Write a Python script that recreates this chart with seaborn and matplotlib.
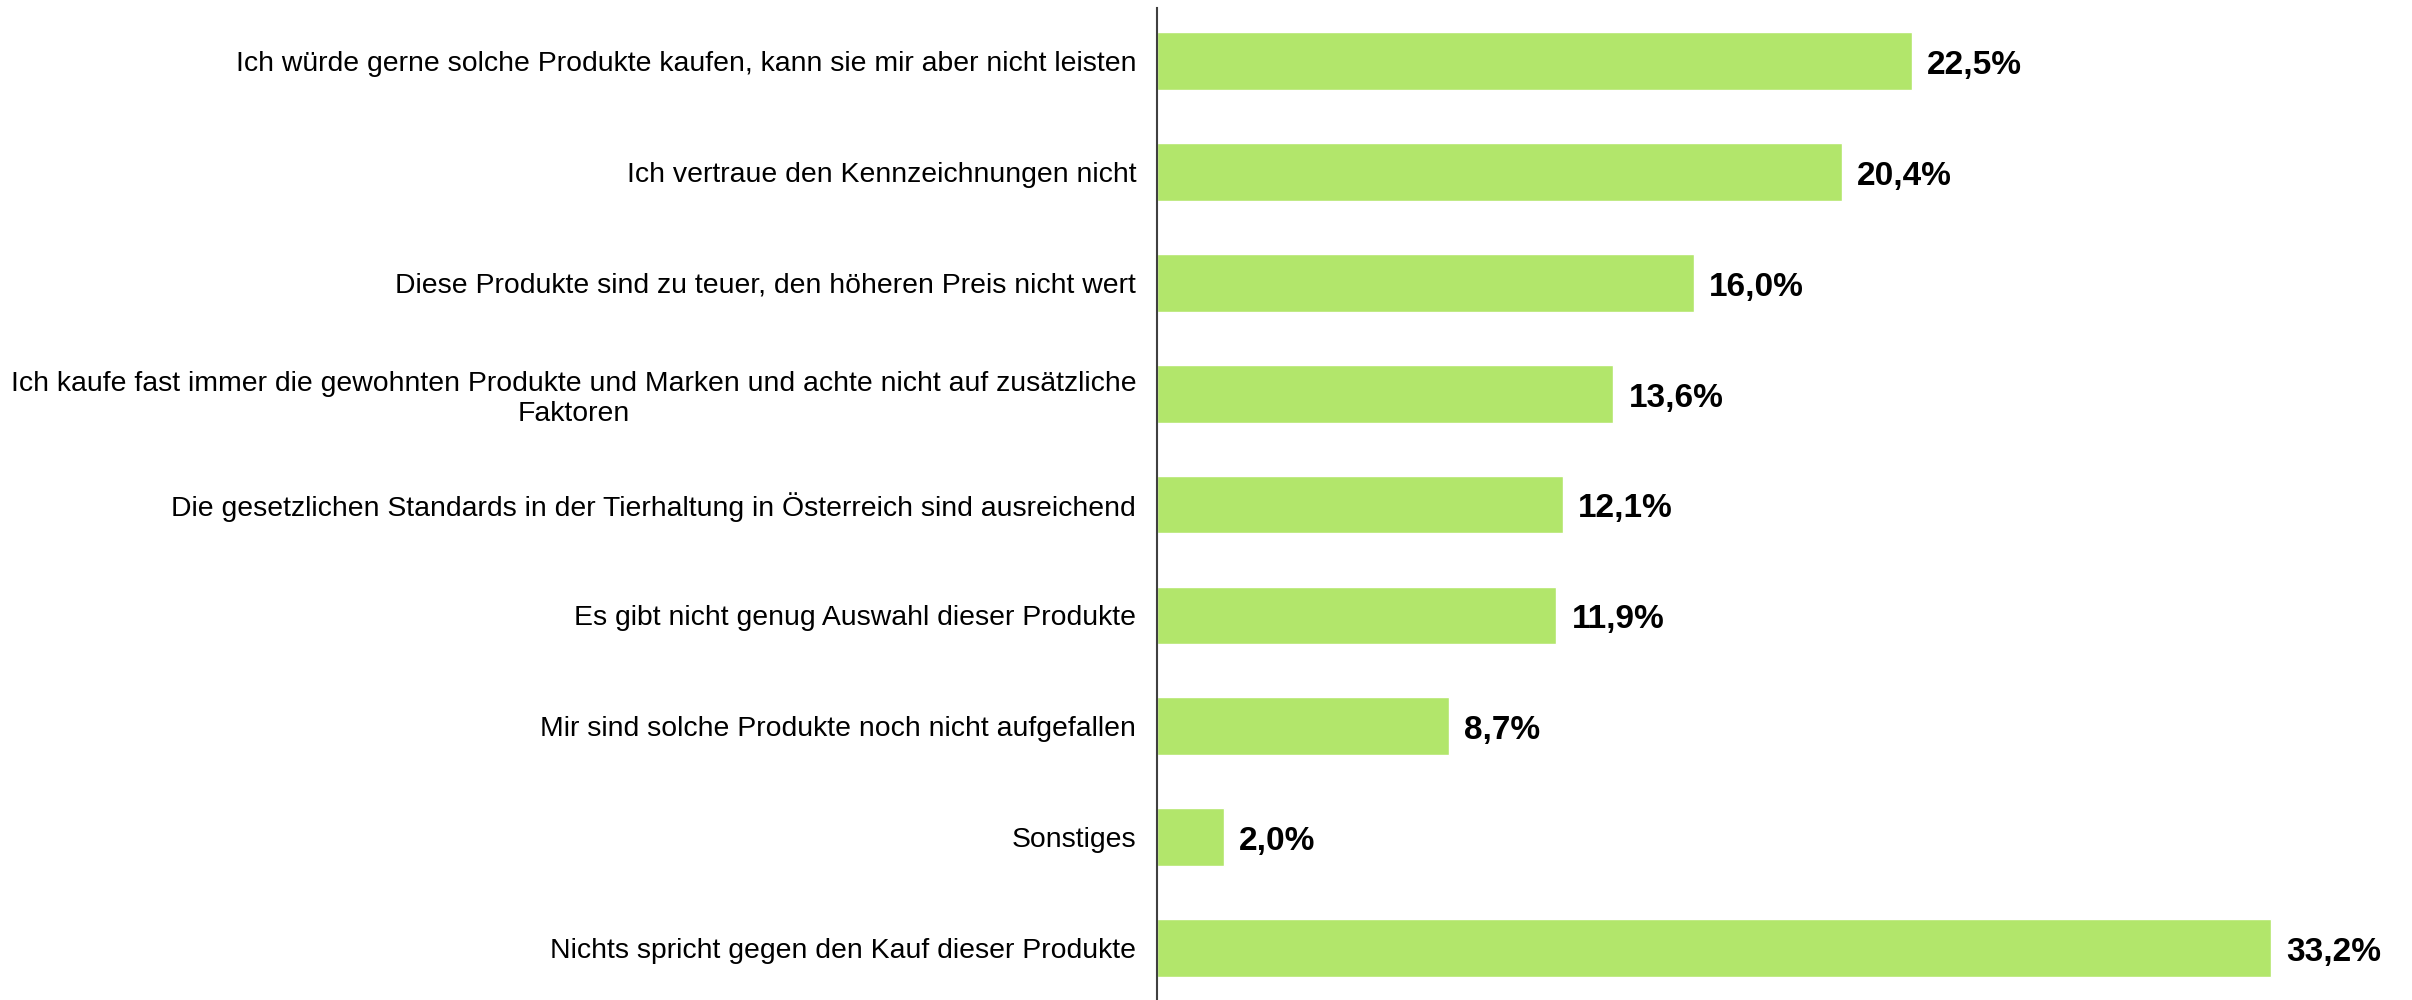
import matplotlib.pyplot as plt
import pandas as pd
import seaborn as sns

# Data
labels = [
    "Ich würde gerne solche Produkte kaufen, kann sie mir aber nicht leisten",
    "Ich vertraue den Kennzeichnungen nicht",
    "Diese Produkte sind zu teuer, den höheren Preis nicht wert",
    "Ich kaufe fast immer die gewohnten Produkte und Marken und achte nicht auf zusätzliche\nFaktoren",
    "Die gesetzlichen Standards in der Tierhaltung in Österreich sind ausreichend",
    "Es gibt nicht genug Auswahl dieser Produkte",
    "Mir sind solche Produkte noch nicht aufgefallen",
    "Sonstiges",
    "Nichts spricht gegen den Kauf dieser Produkte",
]
values = [22.5, 20.4, 16.0, 13.6, 12.1, 11.9, 8.7, 2.0, 33.2]

df = pd.DataFrame({'label': labels, 'value': values})

sns.set_style('white')
plt.rcParams['font.family'] = ['Liberation Sans', 'DejaVu Sans']

fig = plt.figure(figsize=(24.12, 10), dpi=100)
ax = fig.add_axes([0.4797, 0.0, 0.5203, 0.992])

sns.barplot(data=df, x='value', y='label', orient='h', color='#B2E66B',
            saturation=1, width=0.52, ax=ax)

# value labels
for i, v in enumerate(values):
    ax.text(v + 0.45, i + 0.04, f"{v:.1f}%".replace('.', ','), va='center', ha='left',
            fontsize=24, fontweight='bold', color='black')

ax.set_xlim(0, 37.4)
ax.set_ylim(8.47, -0.48)
ax.set_xlabel('')
ax.set_ylabel('')
ax.set_xticks([])
ax.tick_params(axis='y', length=0, pad=15, labelsize=20.4, labelcolor='black')
for lbl in ax.get_yticklabels():
    lbl.set_multialignment('center')
    lbl.set_linespacing(1.22)
for side in ['top', 'right', 'bottom']:
    ax.spines[side].set_visible(False)
ax.spines['left'].set_color('#404040')
ax.spines['left'].set_linewidth(1.5)

fig.savefig('out.png', dpi=100)
